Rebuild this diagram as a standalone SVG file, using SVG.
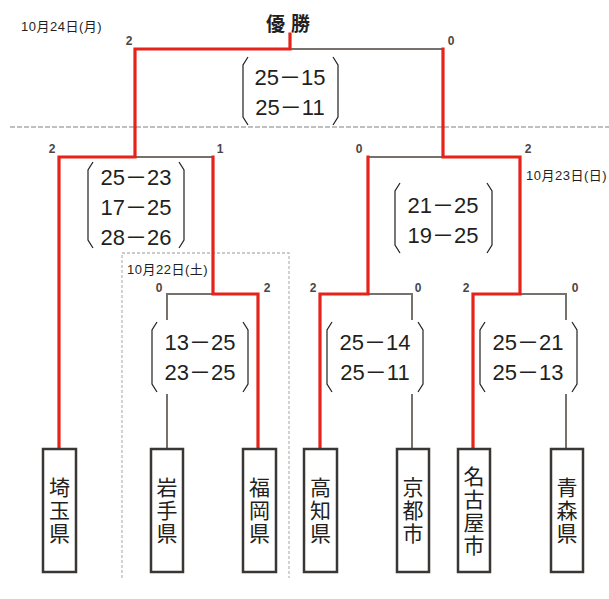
<svg xmlns="http://www.w3.org/2000/svg" width="609" height="599" viewBox="0 0 609 599">
<style>
.red{stroke:#e5231b;stroke-width:3.2;fill:none;stroke-linecap:square}
.gry{stroke:#77716d;stroke-width:2;fill:none}
.br{stroke:#231f20;stroke-width:1.2;fill:none}
.bg{fill:#fff;stroke:none}
.sc{font-family:"Liberation Sans","Noto Sans CJK JP",sans-serif;font-size:22px;fill:#231f20;text-anchor:middle}
.pt{font-family:"Liberation Sans",sans-serif;font-size:12px;font-weight:bold;fill:#4a4646;text-anchor:middle}
.dt{font-family:"Liberation Sans","Noto Sans CJK JP",sans-serif;font-size:13px;fill:#231f20;letter-spacing:0.5px}
.box{fill:#fff;stroke:#3a3634;stroke-width:2.5}
.nm{font-family:"Noto Sans CJK JP",sans-serif;font-size:21px;fill:#231f20;text-anchor:middle;writing-mode:vertical-rl;letter-spacing:2px}
.sep{stroke:#aaa;stroke-width:1.3;stroke-dasharray:5 2;fill:none}
.dot{stroke:#bbb;stroke-width:1.3;stroke-dasharray:3 2;fill:none}
</style>
<path class="sep" d="M10 127H609"/>
<path class="dot" d="M122 578V253H289V578"/>
<text x="291" y="31" font-family="Noto Sans CJK JP,sans-serif" font-size="19" font-weight="bold" fill="#231f20" text-anchor="middle" letter-spacing="6">優勝</text>
<text class="dt" x="21" y="31">10月24日(月)</text>
<text class="dt" x="526" y="180">10月23日(日)</text>
<text class="dt" x="127" y="274">10月22日(土)</text>
<g id="connectors">
<path class="gry" d="M290 49H443"/>
<path class="gry" d="M135 157H213"/>
<path class="gry" d="M368 157H443"/>
<path class="gry" d="M167 449V294H213"/>
<path class="gry" d="M412 449V294H368"/>
<path class="gry" d="M566 449V294H520"/>
<path class="red" d="M290 34V49H135V157H59V449"/>
<path class="red" d="M443 49V157H520V294H473V449"/>
<path class="red" d="M213 157V294H258V449"/>
<path class="red" d="M368 157V294H320V449"/>
</g>
<g id="pts">
<text class="pt" x="129" y="45">2</text>
<text class="pt" x="451" y="45">0</text>
<text class="pt" x="52" y="153">2</text>
<text class="pt" x="220" y="153">1</text>
<text class="pt" x="359" y="153">0</text>
<text class="pt" x="528" y="153">2</text>
<text class="pt" x="159" y="292">0</text>
<text class="pt" x="267" y="292">2</text>
<text class="pt" x="313" y="292">2</text>
<text class="pt" x="418" y="292">0</text>
<text class="pt" x="466" y="292">2</text>
<text class="pt" x="575" y="292">0</text>
</g>
<g id="score-final">
<rect class="bg" x="243" y="57" width="95" height="68"/>
<path class="br" d="M248 57L243 65V117L248 125M333 57L338 65V117L333 125"/>
<text class="sc" x="290" y="85">25－15</text>
<text class="sc" x="290" y="115">25－11</text>
</g>
<g id="score-sf1">
<rect class="bg" x="88" y="162" width="96" height="86"/>
<path class="br" d="M93 162L88 170V240L93 248M179 162L184 170V240L179 248"/>
<text class="sc" x="136" y="185">25－23</text>
<text class="sc" x="136" y="215">17－25</text>
<text class="sc" x="136" y="245">28－26</text>
</g>
<g id="score-sf2">
<rect class="bg" x="395" y="183" width="97" height="70"/>
<path class="br" d="M400 183L395 191V245L400 253M487 183L492 191V245L487 253"/>
<text class="sc" x="443" y="213">21－25</text>
<text class="sc" x="443" y="243">19－25</text>
</g>
<g id="score-qf1">
<rect class="bg" x="152" y="320" width="96" height="74"/>
<path class="br" d="M157 322L152 330V384L157 392M243 322L248 330V384L243 392"/>
<text class="sc" x="200" y="350">13－25</text>
<text class="sc" x="200" y="380">23－25</text>
</g>
<g id="score-qf2">
<rect class="bg" x="327" y="320" width="96" height="74"/>
<path class="br" d="M332 322L327 330V384L332 392M418 322L423 330V384L418 392"/>
<text class="sc" x="375" y="350">25－14</text>
<text class="sc" x="375" y="380">25－11</text>
</g>
<g id="score-qf3">
<rect class="bg" x="480" y="320" width="97" height="74"/>
<path class="br" d="M485 322L480 330V384L485 392M572 322L577 330V384L572 392"/>
<text class="sc" x="528" y="350">25－21</text>
<text class="sc" x="528" y="380">25－13</text>
</g>
<g id="saitama">
<rect class="box" x="43" y="449" width="33" height="123"/>
<text class="nm" x="59.5" y="511.5">埼玉県</text>
</g>
<g id="iwate">
<rect class="box" x="151" y="449" width="32" height="123"/>
<text class="nm" x="167" y="511.5">岩手県</text>
</g>
<g id="fukuoka">
<rect class="box" x="243" y="449" width="33" height="123"/>
<text class="nm" x="259.5" y="511.5">福岡県</text>
</g>
<g id="kochi">
<rect class="box" x="304" y="449" width="33" height="123"/>
<text class="nm" x="320.5" y="511.5">高知県</text>
</g>
<g id="kyoto">
<rect class="box" x="397" y="449" width="32" height="123"/>
<text class="nm" x="413" y="511.5">京都市</text>
</g>
<g id="nagoya">
<rect class="box" x="458" y="449" width="32" height="123"/>
<text class="nm" x="474" y="511.5">名古屋市</text>
</g>
<g id="aomori">
<rect class="box" x="551" y="449" width="32" height="123"/>
<text class="nm" x="567" y="511.5">青森県</text>
</g>
</svg>
